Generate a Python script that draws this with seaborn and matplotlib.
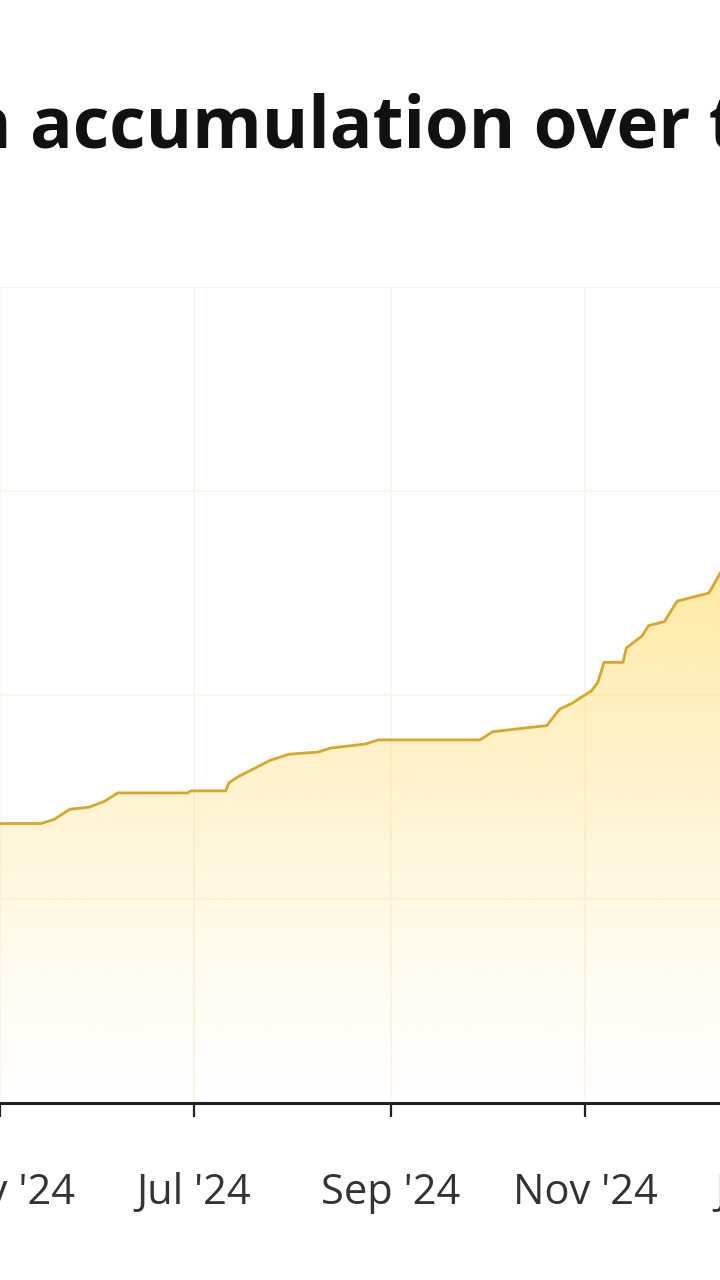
import numpy as np
import pandas as pd
import seaborn as sns
import matplotlib.pyplot as plt
import matplotlib.dates as mdates
from matplotlib.colors import to_rgb

# data (y in grid units, gridlines every 100)
dates = pd.to_datetime([
    "2024-05-01", "2024-05-14", "2024-05-18", "2024-05-23", "2024-05-29",
    "2024-06-03", "2024-06-07", "2024-06-29", "2024-06-30", "2024-07-11",
    "2024-07-12", "2024-07-15", "2024-07-25", "2024-07-31", "2024-08-09",
    "2024-08-13", "2024-08-24", "2024-08-28", "2024-09-29", "2024-10-03",
    "2024-10-14", "2024-10-20", "2024-10-24", "2024-10-28", "2024-11-03",
    "2024-11-05", "2024-11-07", "2024-11-13", "2024-11-14", "2024-11-19",
    "2024-11-21", "2024-11-26", "2024-11-30", "2024-12-10", "2024-12-14",
    "2024-12-18",
])
holdings = [
    137, 137, 139, 144, 145,
    148, 152, 152, 153, 153,
    157, 160, 168, 171, 172,
    174, 176, 178, 178, 182,
    184, 185, 193, 196, 202,
    206, 216, 216, 223, 229,
    234, 236, 246, 250, 261,
    274,
]
y_ticks = [0, 100, 200, 300, 400]

title_part = "n accumulation over t"
line_color = "#d9a62c"
fill_color = "#ffd85c"

sns.set_style("white")
plt.rcParams["font.family"] = ["Open Sans", "DejaVu Sans"]

fig = plt.figure(figsize=(7.2, 12.8), dpi=100)
# the plot area runs past both edges of the picture
px = 3.179  # pixels per day
x0 = mdates.date2num(pd.Timestamp("2024-05-01")) - 100 / px
x1 = mdates.date2num(pd.Timestamp("2024-05-01")) + 900 / px
ax = fig.add_axes([-100 / 720, 177 / 1280, 1000 / 720, 816 / 1280])

sns.lineplot(x=dates, y=holdings, ax=ax, color=line_color, linewidth=2.0,
             zorder=4)

# vertical gradient fill under the line
poly = ax.fill_between(dates, holdings, 0, color="none", lw=0)
vals = np.linspace(0, 400, 400)
alpha = 0.58 * np.clip(vals / 270, 0, None) ** 1.2
rgba = np.zeros((400, 1, 4))
rgba[..., :3] = to_rgb(fill_color)
rgba[:, 0, 3] = np.clip(alpha, 0, 1)
img = ax.imshow(rgba, extent=[x0, x1, 0, 400], origin="lower",
                aspect="auto", zorder=2, interpolation="bilinear")
img.set_clip_path(poly.get_paths()[0], transform=ax.transData)

ax.set_xlim(x0, x1)
ax.set_ylim(0, 400)
ax.set_yticks(y_ticks)
ax.xaxis.set_major_locator(mdates.MonthLocator(bymonth=[1, 3, 5, 7, 9, 11]))
ax.xaxis.set_major_formatter(mdates.DateFormatter("%b '%y"))
ax.grid(True, color="#fbf5e6", linewidth=1.2, zorder=1)
ax.set_axisbelow(True)
for s in ["top", "left", "right"]:
    ax.spines[s].set_visible(False)
ax.spines["bottom"].set_color("#222222")
ax.spines["bottom"].set_linewidth(2.2)
ax.tick_params(axis="x", bottom=True, direction="out", length=10, width=1.6,
               color="#222222", labelsize=30, labelcolor="#333333", pad=40)
ax.tick_params(axis="y", left=False, labelleft=False)
ax.set_xlabel("")
ax.set_ylabel("")

fig.text(-35 / 720, 1 - 147 / 1280, title_part, fontsize=51,
         fontweight="bold", color="#111111", ha="left", va="baseline")

fig.savefig("out.png", dpi=100, facecolor="white")
